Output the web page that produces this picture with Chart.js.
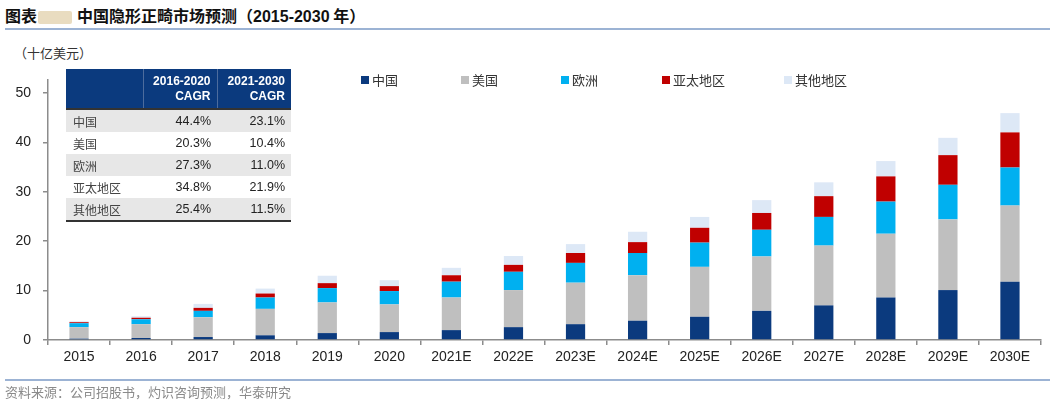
<!DOCTYPE html>
<html>
<head>
<meta charset="utf-8">
<script src="https://cdn.jsdelivr.net/npm/chart.js@4"></script>
<style>
  body { margin: 0; width: 1056px; height: 404px; background: #fff; position: relative; overflow: hidden;
         font-family: "Noto Sans CJK SC", "Liberation Sans", sans-serif; color: #222; }
  #title { position: absolute; left: 5px; top: 5px; font-size: 16px; font-weight: 700; line-height: 20px; white-space: nowrap; color: #111; }
  #title .num { font-family: "Liberation Sans", Arial, sans-serif; }
  #logo { display: inline-block; width: 34px; height: 13px; background: #e9dcc0; border-radius: 2px; vertical-align: -2px; margin: 0 5px 0 1px; }
  .rule { position: absolute; left: 5px; right: 6px; height: 2px; background: #9cb3d4; }
  #unit { position: absolute; left: 14px; top: 43px; font-size: 13px; color: #333; }
  #legend { position: absolute; top: 72px; left: 0; font-size: 13px; color: #333; }
  #legend span { position: absolute; white-space: nowrap; line-height: 16px; }
  #legend i { display: inline-block; width: 8px; height: 8px; margin-right: 3px; vertical-align: 1px; }
  #source { position: absolute; left: 5px; top: 382px; font-size: 13px; color: #8a8a8a; }
  #cagr { position: absolute; left: 66px; top: 69px; width: 225px; border-collapse: collapse; font-size: 12px; z-index: 2; table-layout: fixed; }
  #cagr th { background: #0b3a7e; color: #fff; font-family: "Liberation Sans", Arial, sans-serif; font-weight: 700;
             text-align: right; padding: 4px 6px 4px 4px; line-height: 15px; height: 31px; border-left: 1px solid #4d6c9d; }
  #cagr th:first-child { border-left: none; }
  #cagr td { padding: 0 6px; height: 22px; text-align: right; font-family: "Liberation Sans", Arial, sans-serif; font-size: 12.5px; color: #222; }
  #cagr td:first-child { text-align: left; font-family: "Noto Sans CJK SC", sans-serif; font-size: 12px; color: #444; padding-left: 7px; }
  #cagr tr.g td { background: #e7e7e7; }
  #cagr tbody tr:first-child td { border-top: 2px solid #333; }
  #cagr tbody tr:last-child td { border-bottom: 2px solid #333; }
  canvas { position: absolute; left: 0; top: 0; }
</style>
</head>
<body>
<div id="title">图表<span id="logo"></span>中国隐形正畸市场预测（<span class="num">2015-2030</span> 年）</div>
<div class="rule" style="top:28px"></div>
<div id="unit">（十亿美元）</div>
<canvas id="chart" width="1056" height="404"></canvas>
<table id="cagr"><colgroup><col style="width:77px"><col style="width:74px"><col style="width:74px"></colgroup><thead></thead><tbody></tbody></table>
<div id="legend"></div>
<div class="rule" style="top:379px"></div>
<div id="source">资料来源：公司招股书，灼识咨询预测，华泰研究</div>
<script>
// market size, billions USD
const years = ['2015', '2016', '2017', '2018', '2019', '2020', '2021E', '2022E',
  '2023E', '2024E', '2025E', '2026E', '2027E', '2028E', '2029E', '2030E'];
const china  = [0.27, 0.4, 0.6, 0.95, 1.4, 1.6, 2.0, 2.6, 3.2, 3.9, 4.7, 5.9, 7.0, 8.6, 10.1, 11.8];
const usa    = [2.33, 2.8, 4.0, 5.35, 6.2, 5.6, 6.6, 7.5, 8.4, 9.2, 10.1, 11.0, 12.1, 12.9, 14.3, 15.4];
const europe = [0.8, 1.0, 1.3, 2.3, 2.9, 2.7, 3.2, 3.7, 4.0, 4.5, 4.9, 5.4, 5.8, 6.5, 7.0, 7.7];
const apac   = [0.2, 0.3, 0.6, 0.8, 1.0, 1.0, 1.3, 1.4, 2.0, 2.2, 3.0, 3.4, 4.2, 5.1, 6.0, 7.1];
const others = [0.2, 0.3, 0.8, 1.0, 1.5, 1.2, 1.5, 1.8, 1.8, 2.1, 2.2, 2.6, 2.8, 3.1, 3.5, 3.9];

const regions  = ['中国', '美国', '欧洲', '亚太地区', '其他地区'];
const colors   = ['#0b3a7e', '#bfbfbf', '#00b0f0', '#c00000', '#dde8f6'];
const cagrCols = ['2016-2020<br>CAGR', '2021-2030<br>CAGR'];
const cagr1620 = ['44.4%', '20.3%', '27.3%', '34.8%', '25.4%'];
const cagr2130 = ['23.1%', '10.4%', '11.0%', '21.9%', '11.5%'];
const yTicks   = [0, 10, 20, 30, 40, 50];

// CAGR table
document.querySelector('#cagr thead').innerHTML =
  '<tr><th></th>' + cagrCols.map(c => '<th>' + c + '</th>').join('') + '</tr>';
document.querySelector('#cagr tbody').innerHTML = regions.map((r, i) =>
  '<tr class="' + (i % 2 === 0 ? 'g' : '') + '"><td>' + r + '</td><td>' + cagr1620[i] +
  '</td><td>' + cagr2130[i] + '</td></tr>').join('');

// legend
const legendX = [361, 461, 561, 662, 784];
document.getElementById('legend').innerHTML = regions.map((r, i) =>
  '<span style="left:' + legendX[i] + 'px"><i style="background:' + colors[i] + '"></i>' + r + '</span>').join('');

const series = [china, usa, europe, apac, others];

new Chart(document.getElementById('chart'), {
  type: 'bar',
  data: {
    labels: years,
    datasets: series.map((d, i) => ({
      label: regions[i],
      data: d,
      backgroundColor: colors[i],
      borderWidth: 0,
      barPercentage: 0.31,
      categoryPercentage: 1,
    })),
  },
  options: {
    responsive: false,
    animation: false,
    layout: { padding: { left: 0, right: 15, top: 80, bottom: 0 } },
    plugins: {
      legend: { display: false },
      tooltip: { enabled: false },
    },
    scales: {
      x: {
        stacked: true,
        border: { color: '#8c8c8c', width: 1.5 },
        grid: { drawOnChartArea: false, drawTicks: true, tickLength: 5, color: '#8c8c8c', lineWidth: 1.5 },
        ticks: { color: '#222', padding: 4, font: { family: 'Liberation Sans', size: 14 }, maxRotation: 0 },
        afterFit: (s) => { s.height = 64; },
      },
      y: {
        stacked: true,
        min: 0,
        max: 52.6,
        border: { color: '#8c8c8c', width: 1.5 },
        grid: { drawOnChartArea: false, drawTicks: true, tickLength: 5, color: '#8c8c8c', lineWidth: 1.5 },
        ticks: { color: '#222', padding: 12, font: { family: 'Liberation Sans', size: 14 } },
        afterBuildTicks: (s) => { s.ticks = yTicks.map(v => ({ value: v })); },
        afterFit: (s) => { s.width = 48; },
      },
    },
  },
});
</script>
</body>
</html>
